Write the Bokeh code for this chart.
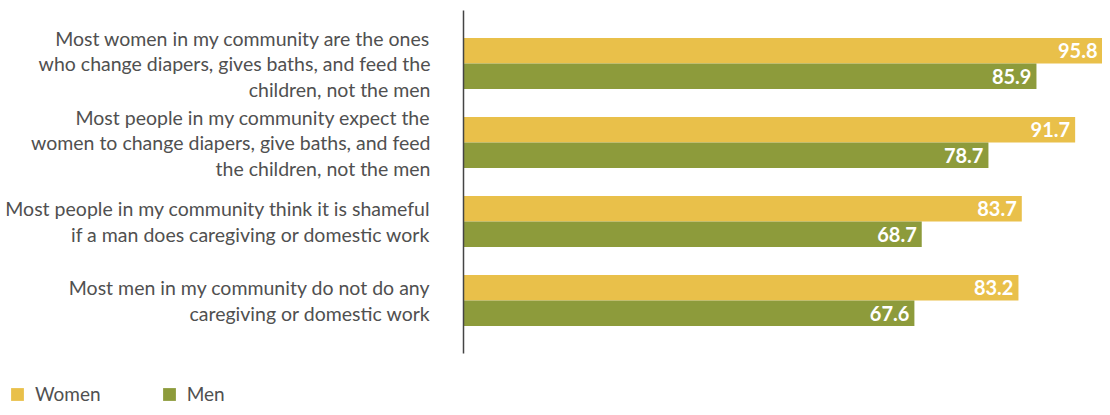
from bokeh.plotting import figure
from bokeh.models import Range1d, Legend, LegendItem, ColumnDataSource
from bokeh.core.properties import value
from bokeh.embed import file_html
from bokeh.resources import INLINE

categories = [
    ["Most women in my community are the ones",
     "who change diapers, gives baths, and feed the",
     "children, not the men"],
    ["Most people in my community expect the",
     "women to change diapers, give baths, and feed",
     "the children, not the men"],
    ["Most people in my community think it is shameful",
     "if a man does caregiving or domestic work"],
    ["Most men in my community do not do any",
     "caregiving or domestic work"],
]
women = [95.8, 91.7, 83.7, 83.2]
men = [85.9, 78.7, 68.7, 67.6]
series_names = ["Women", "Men"]
colors = ["#E9C04A", "#8D9B3B"]

FONT = "Lato"
W, H = 1102, 407
X0 = 463            # pixel of value 0
SCALE = (W - X0) / 95.8   # px per unit
GROUP = 79.0        # px per category
Y0 = 63.0           # pixel of first category centre
BAR_H = 25.5 / GROUP
LINE = 25.5 / GROUP
idx = list(range(len(categories)))

p = figure(width=W, height=H, output_backend="svg", toolbar_location=None,
           x_range=Range1d(-X0 / SCALE, (W - X0) / SCALE),
           y_range=Range1d((H - Y0) / GROUP, -Y0 / GROUP),
           min_border=0)
p.xaxis.visible = False
p.yaxis.visible = False
p.xgrid.visible = False
p.ygrid.visible = False
p.outline_line_color = None
p.background_fill_color = "white"
p.border_fill_color = "white"

src_w = ColumnDataSource(dict(y=[i - BAR_H / 2 for i in idx], v=women, t=[f"{v:.1f}" for v in women]))
src_m = ColumnDataSource(dict(y=[i + BAR_H / 2 for i in idx], v=men, t=[f"{v:.1f}" for v in men]))

rw = p.hbar(y="y", right="v", left=0, height=BAR_H, source=src_w, color=colors[0], line_color=None)
rm = p.hbar(y="y", right="v", left=0, height=BAR_H, source=src_m, color=colors[1], line_color=None)

for src in (src_w, src_m):
    p.text(x="v", y="y", text="t", source=src, x_offset=-5, text_align="right",
           text_baseline="middle", text_color="white", text_font=value(FONT),
           text_font_size="20px", text_font_style="bold")

# axis line (spans from above first category to below last)
p.segment(x0=[0], y0=[-53 / GROUP], x1=[0],
          y1=[len(categories) - 1 + 53 / GROUP], line_color="#444444", line_width=1.5)

# category labels
lx, ly, lt = [], [], []
for i, lines in enumerate(categories):
    n = len(lines)
    for k, line in enumerate(lines):
        lx.append(-33 / SCALE)
        ly.append(i + (k - (n - 1) / 2) * LINE)
        lt.append(line)
p.text(x=lx, y=ly, text=lt, text_align="right", text_baseline="middle",
       text_font=value(FONT), text_font_size="19.5px", text_color="#505050")

legend = Legend(items=[LegendItem(label=series_names[0], renderers=[rw]),
                       LegendItem(label=series_names[1], renderers=[rm])],
                orientation="horizontal", location=(9, 2),
                glyph_width=16, glyph_height=16, label_standoff=10, spacing=60,
                padding=0, margin=0, border_line_color=None, background_fill_alpha=0,
                label_text_font=FONT, label_text_font_size="19px", label_text_color="#505050")
p.add_layout(legend)

open("out.html", "w").write(file_html(p, INLINE))
